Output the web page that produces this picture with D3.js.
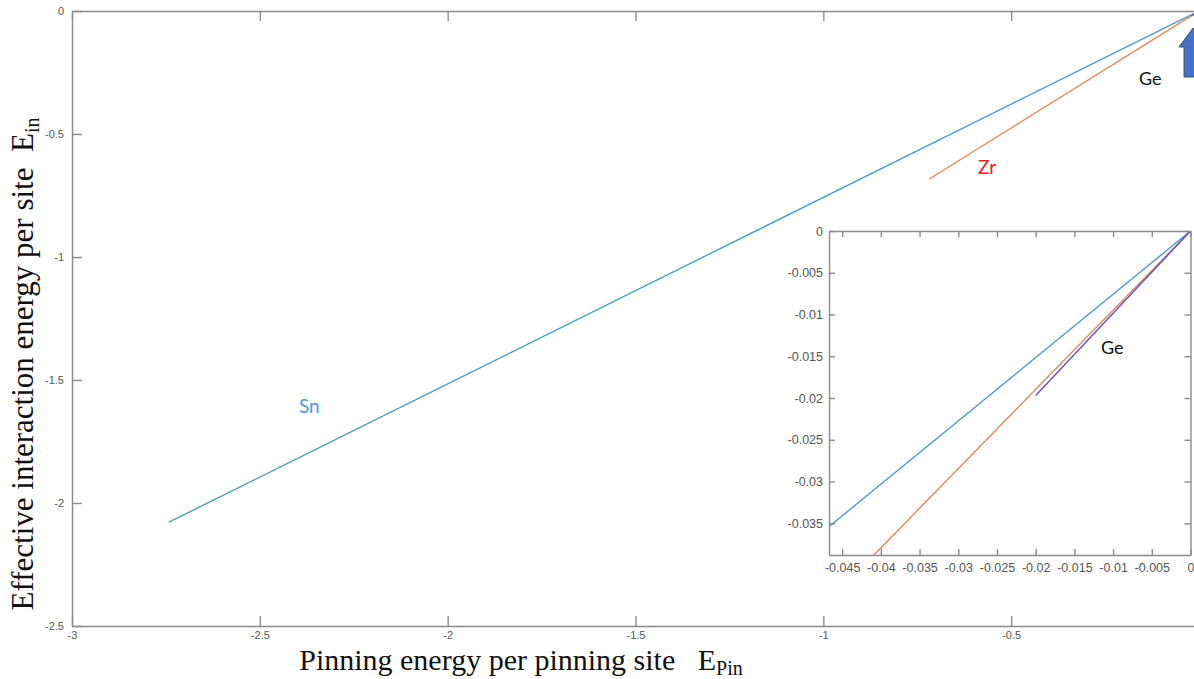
<!DOCTYPE html>
<html>
<head>
<meta charset="utf-8">
<script src="https://cdn.jsdelivr.net/npm/d3@7"></script>
<style>
  html, body { margin: 0; padding: 0; background: #fff; overflow: hidden; }
  .tick text { font-family: "Liberation Sans", Arial, sans-serif; fill: #555; }
  .axis path, .axis line { stroke: #8a8a8a; stroke-width: 1.4; }
</style>
</head>
<body>
<svg id="chart" width="1194" height="679"></svg>
<script>
// series (pinning energy -> effective interaction energy)
const snPin = [-2.742, -0.0467, 0];
const snInt = [-2.078, -0.0354, 0];
const zrPin = [-0.718, -0.0409, 0];
const zrInt = [-0.683, -0.0388, 0];
const gePin = [-0.0200, 0];
const geInt = [-0.0197, 0];

const mainXTicks = [-3, -2.5, -2, -1.5, -1, -0.5, 0];
const mainYTicks = [-2.5, -2, -1.5, -1, -0.5, 0];
const insetXTicks = [-0.045, -0.04, -0.035, -0.03, -0.025, -0.02, -0.015, -0.01, -0.005, 0];
const insetYTicks = [-0.035, -0.03, -0.025, -0.02, -0.015, -0.01, -0.005, 0];

const series = [
  { name: 'Sn', xs: snPin, ys: snInt, color: '#4f9bc6' },
  { name: 'Zr', xs: zrPin, ys: zrInt, color: '#dc8a5e' },
  { name: 'Ge', xs: gePin, ys: geInt, color: '#5a4fcc' }
];

const svg = d3.select('#chart');

// ---- main axes
const x = d3.scaleLinear().domain([-3, 0]).range([72, 1199]);
const y = d3.scaleLinear().domain([-2.5, 0]).range([626, 11]);

const fmt = d => String(d);

svg.append('g')
  .attr('class', 'axis')
  .attr('transform', `translate(0,${y(-2.5)})`)
  .call(d3.axisBottom(x).tickValues(mainXTicks).tickFormat(fmt)
    .tickSizeInner(-10).tickSizeOuter(0).tickPadding(5))
  .call(g => g.selectAll('text').attr('font-size', 11).attr('dy', '0.75em'));

svg.append('g')
  .attr('class', 'axis')
  .attr('transform', `translate(0,${y(0)})`)
  .call(d3.axisTop(x).tickValues(mainXTicks).tickFormat('')
    .tickSizeInner(-10).tickSizeOuter(0));

svg.append('g')
  .attr('class', 'axis')
  .attr('transform', `translate(${x(-3)},0)`)
  .call(d3.axisLeft(y).tickValues(mainYTicks).tickFormat(fmt)
    .tickSizeInner(-10).tickSizeOuter(0).tickPadding(8))
  .call(g => g.selectAll('text').attr('font-size', 11));

const line = (sx, sy) => d3.line().x(d => sx(d[0])).y(d => sy(d[1]));
const pts = s => s.xs.map((v, i) => [v, s.ys[i]]);

svg.append('g').selectAll('path')
  .data(series)
  .join('path')
  .attr('fill', 'none')
  .attr('stroke', d => d.color)
  .attr('stroke-width', 1.4)
  .attr('d', d => line(x, y)(pts(d)));

// labels in main plot
const lblFont = 'Lato, "Open Sans", sans-serif';
svg.append('text').attr('x', 299).attr('y', 413)
  .attr('font-family', lblFont).attr('font-size', 19).attr('fill', '#4a9ad6').text('Sn');
svg.append('text').attr('x', 978).attr('y', 174)
  .attr('font-family', lblFont).attr('font-size', 19).attr('fill', '#e8201c').text('Zr');
svg.append('text').attr('x', 1139).attr('y', 85)
  .attr('font-family', lblFont).attr('font-size', 18).attr('fill', '#111').text('Ge');

// blue block arrow pointing at the Ge line near the origin
const ax = x(0) - 6, ay = 28;
svg.append('path')
  .attr('d', `M${ax},${ay} L${ax + 14},${ay + 19} L${ax + 9},${ay + 19} L${ax + 9},${ay + 49}
              L${ax - 9},${ay + 49} L${ax - 9},${ay + 19} L${ax - 14},${ay + 19} Z`)
  .attr('fill', '#4472c4')
  .attr('stroke', '#2f528f')
  .attr('stroke-width', 1);

// axis titles
const serif = '"Liberation Serif", "Times New Roman", serif';
const yTitle = svg.append('text')
  .attr('transform', 'translate(33,364) rotate(-90)')
  .attr('text-anchor', 'middle')
  .attr('font-family', serif)
  .attr('font-size', 31)
  .attr('fill', '#111');
yTitle.append('tspan').text('Effective interaction energy per site\u00a0\u00a0E');
yTitle.append('tspan').attr('font-size', 20).attr('dy', 6).text('in');

const xTitle = svg.append('text')
  .attr('x', 521).attr('y', 670)
  .attr('text-anchor', 'middle')
  .attr('font-family', serif)
  .attr('font-size', 30)
  .attr('fill', '#111');
xTitle.append('tspan').text('Pinning energy per pinning site\u00a0\u00a0\u00a0E');
xTitle.append('tspan').attr('font-size', 20).attr('dy', 5).text('Pin');

// ---- inset
const xi = d3.scaleLinear().domain([-0.0467, 0]).range([829, 1190.5]);
const yi = d3.scaleLinear().domain([-0.0388, 0]).range([555, 231]);

const inset = svg.append('g');
inset.append('rect')
  .attr('x', xi(-0.0467)).attr('y', yi(0))
  .attr('width', xi(0) - xi(-0.0467)).attr('height', yi(-0.0388) - yi(0))
  .attr('fill', '#fff');

svg.append('clipPath').attr('id', 'insetClip')
  .append('rect')
  .attr('x', xi(-0.0467)).attr('y', yi(0))
  .attr('width', xi(0) - xi(-0.0467)).attr('height', yi(-0.0388) - yi(0));

inset.append('g')
  .attr('clip-path', 'url(#insetClip)')
  .selectAll('path')
  .data(series)
  .join('path')
  .attr('fill', 'none')
  .attr('stroke', d => d.color)
  .attr('stroke-width', 1.4)
  .attr('d', d => line(xi, yi)(pts(d)));

inset.append('g')
  .attr('class', 'axis')
  .attr('transform', `translate(0,${yi(-0.0388)})`)
  .call(d3.axisBottom(xi).tickValues(insetXTicks).tickFormat(fmt)
    .tickSizeInner(-6).tickSizeOuter(0).tickPadding(8))
  .call(g => g.selectAll('text').attr('font-size', 12.5).attr('fill', '#444'));

inset.append('g')
  .attr('class', 'axis')
  .attr('transform', `translate(0,${yi(0)})`)
  .call(d3.axisTop(xi).tickValues(insetXTicks).tickFormat('')
    .tickSizeInner(-6).tickSizeOuter(0));

inset.append('g')
  .attr('class', 'axis')
  .attr('transform', `translate(${xi(-0.0467)},0)`)
  .call(d3.axisLeft(yi).tickValues(insetYTicks).tickFormat(fmt)
    .tickSizeInner(-6).tickSizeOuter(0).tickPadding(6))
  .call(g => g.selectAll('text').attr('font-size', 12.5).attr('fill', '#444'));

inset.append('g')
  .attr('class', 'axis')
  .attr('transform', `translate(${xi(0)},0)`)
  .call(d3.axisRight(yi).tickValues(insetYTicks).tickFormat('')
    .tickSizeInner(-6).tickSizeOuter(0));

inset.append('text').attr('x', 1101).attr('y', 354)
  .attr('font-family', lblFont).attr('font-size', 18).attr('fill', '#111').text('Ge');
</script>
</body>
</html>
